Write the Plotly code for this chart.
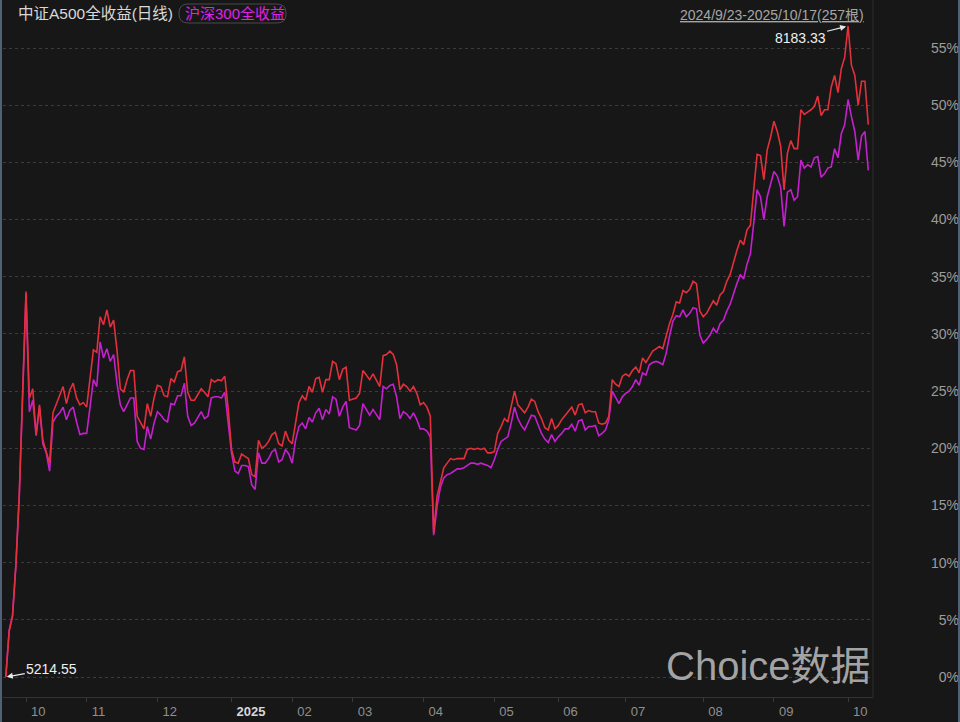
import plotly.graph_objects as go
from itertools import accumulate

# ---------------- data ----------------
# trading days per month, 2024-09 .. 2025-10 (257 bars in total)
days_in_month = [6, 18, 21, 22, 18, 18, 21, 21, 19, 20, 23, 21, 22, 7]
month_labels = ["10", "11", "12", "<b><span style='color:#d8d8d8'>2025</span></b>",
                "02", "03", "04", "05", "06", "07", "08", "09", "10"]

# cumulative total return (%) vs. 2024/9/23
a500 = [
    # 2024-09
    0.0, 4.0, 5.3, 9.8, 15.9, 25.6,
    # 2024-10
    33.7, 24.4, 25.2, 21.2, 23.8, 20.7, 19.8, 18.7, 23.1, 23.9, 24.7, 25.4,
    23.9, 25.1, 25.7, 24.4, 23.8, 24.0,
    # 2024-11
    23.6, 26.1, 28.6, 28.4, 31.5, 30.8, 32.1, 30.6, 31.2, 28.6, 25.2, 24.9,
    26.0, 26.8, 26.8, 22.8, 22.2, 21.7, 23.9, 22.8, 24.4,
    # 2024-12
    25.5, 25.4, 24.6, 24.5, 26.1, 25.8, 26.7, 26.8, 28.0, 24.9, 24.2, 24.2,
    24.7, 25.2, 24.9, 24.5, 26.0, 25.8, 26.0, 25.9, 26.3, 23.5,
    # 2025-01
    19.9, 18.8, 18.7, 19.5, 19.3, 19.1, 17.7, 17.5, 20.7, 20.0, 20.2, 20.6,
    21.2, 21.4, 20.4, 20.2, 21.5, 20.7,
    # 2025-02
    20.4, 22.2, 24.0, 24.6, 24.2, 25.4, 24.9, 26.1, 26.2, 24.9, 26.0, 26.0,
    27.6, 27.4, 26.0, 26.9, 27.1, 24.2,
    # 2025-03
    24.3, 24.4, 24.8, 26.8, 26.4, 26.0, 26.5, 26.0, 25.4, 28.1, 28.2, 28.5,
    28.2, 27.3, 25.1, 25.6, 25.4, 25.0, 25.4, 24.8, 23.8,
    # 2025-04
    24.0, 23.6, 22.8, 12.6, 15.8, 17.2, 18.3, 18.7, 19.1, 19.0, 19.1, 19.1,
    19.1, 19.9, 20.0, 19.9, 20.0, 19.9, 20.0, 19.6, 19.6,
    # 2025-05
    19.7, 21.3, 21.9, 22.6, 22.3, 23.8, 25.0, 23.8, 23.4, 23.1, 23.6, 24.3,
    24.1, 23.2, 22.6, 21.8, 21.6, 22.6, 21.7,
    # 2025-06
    22.0, 22.5, 22.9, 23.2, 23.6, 22.9, 23.8, 23.9, 23.1, 23.3, 23.2, 23.2,
    22.2, 22.1, 22.2, 22.8, 26.0, 25.6, 25.4, 26.3,
    # 2025-07
    26.5, 26.3, 26.8, 27.1, 26.6, 27.9, 27.5, 28.0, 28.5, 28.7, 28.9, 28.7,
    29.9, 30.9, 31.7, 32.8, 32.7, 33.8, 33.6, 33.9, 34.6, 34.4, 32.0,
    # 2025-08
    31.5, 31.8, 32.3, 32.9, 32.5, 33.4, 33.7, 34.6, 35.2, 36.3, 37.3, 38.2,
    37.8, 39.1, 39.5, 42.6, 45.7, 45.6, 43.5, 46.1, 47.2,
    # 2025-09
    48.6, 47.7, 46.4, 42.6, 45.8, 46.9, 46.2, 46.2, 49.6, 49.2, 49.4, 49.6,
    49.9, 50.8, 49.1, 49.6, 49.6, 51.6, 52.6, 51.1, 53.2, 54.2,
    # 2025-10
    56.93, 53.5, 52.6, 50.0, 52.1, 52.1, 48.3,
]

hs300 = [
    # 2024-09
    0.0, 4.1, 5.4, 9.8, 15.8, 25.4,
    # 2024-10
    33.5, 23.2, 24.2, 21.1, 23.6, 20.4, 19.6, 18.0, 22.3, 22.8, 23.1, 23.6,
    22.5, 23.3, 23.6, 22.3, 21.2, 21.3,
    # 2024-11
    21.3, 23.6, 26.0, 25.4, 29.3, 27.9, 28.7, 27.6, 28.2, 25.7, 23.8, 23.2,
    23.8, 24.4, 24.4, 20.6, 20.0, 19.9, 21.9, 20.8, 22.2,
    # 2024-12
    23.2, 22.9, 22.5, 22.3, 23.9, 23.8, 24.6, 24.6, 25.7, 22.8, 22.0, 22.2,
    22.7, 23.2, 22.6, 22.8, 24.4, 24.5, 24.5, 24.4, 24.9, 22.3,
    # 2025-01
    19.6, 18.0, 17.8, 18.5, 18.5, 18.4, 16.8, 16.4, 19.6, 18.7, 18.7, 19.1,
    19.7, 19.9, 18.8, 19.0, 19.9, 19.5,
    # 2025-02
    18.7, 20.7, 21.9, 22.2, 21.7, 22.7, 22.3, 23.1, 23.5, 22.5, 23.4, 23.0,
    24.5, 24.3, 22.8, 23.6, 24.1, 21.8,
    # 2025-03
    21.7, 21.6, 22.0, 23.9, 23.4, 22.9, 23.4, 22.9, 22.5, 25.4, 25.2, 25.5,
    25.6, 24.5, 22.6, 23.2, 23.0, 22.6, 23.1, 22.5, 21.7,
    # 2025-04
    21.7, 21.5, 21.0, 12.4, 14.9, 16.6, 17.4, 17.7, 17.8, 18.0, 18.2, 18.2,
    18.3, 18.5, 18.7, 18.7, 18.6, 18.7, 18.6, 18.5, 18.3,
    # 2025-05
    19.0, 19.9, 20.6, 20.8, 21.0, 22.2, 23.6, 22.6, 22.0, 21.6, 22.3, 22.9,
    22.8, 22.0, 21.3, 20.8, 20.5, 21.2, 20.6,
    # 2025-06
    21.0, 21.3, 21.7, 21.7, 22.1, 21.5, 22.4, 22.5, 21.6, 21.9, 21.9, 22.0,
    21.1, 21.3, 21.6, 22.5, 25.0, 24.5, 23.9, 24.5,
    # 2025-07
    24.8, 25.0, 25.4, 26.0, 25.5, 26.6, 26.4, 27.3, 27.5, 27.6, 27.5, 27.3,
    28.3, 29.8, 31.1, 31.6, 31.5, 32.1, 31.5, 31.8, 32.3, 32.2, 29.9,
    # 2025-08
    29.2, 29.5, 29.9, 30.5, 30.1, 30.9, 31.2, 32.0, 32.6, 33.6, 34.4, 35.2,
    34.8, 36.1, 37.0, 39.7, 42.6, 42.0, 40.0, 42.0, 43.2,
    # 2025-09
    44.2, 43.8, 42.8, 39.4, 42.4, 42.6, 41.7, 42.0, 45.2, 44.5, 44.8, 44.6,
    45.4, 45.5, 43.7, 44.0, 44.5, 44.6, 46.2, 45.4, 47.5, 48.3,
    # 2025-10
    50.5, 49.0, 47.7, 45.2, 47.3, 47.7, 44.3,
]

y_ticks = list(range(0, 56, 5))
y_labels = [f"{v}%" for v in y_ticks]
start_label = "5214.55"
peak_label = "8183.33"
title_a500 = "中证A500全收益(日线)"
title_hs300 = "沪深300全收益"
range_label = "2024/9/23-2025/10/17(257根)"
watermark = "Choice数据"

# ---------------- derived ----------------
n = len(a500)
x = list(range(n))
month_starts = list(accumulate(days_in_month))[:-1]
peak_i = max(range(n), key=lambda i: a500[i])

W, H = 960, 722
def px(v):
    return v / W
def py(v):
    return 1 - v / H

BG = "#171717"
RED = "#e3303c"
MAG = "#c61fd0"
FONT = "Liberation Sans, Arial, Noto Sans CJK SC, sans-serif"

fig = go.Figure()
fig.add_trace(go.Scatter(x=x, y=hs300, mode="lines", name=title_hs300,
                         line=dict(color=MAG, width=1.6), hoverinfo="skip"))
fig.add_trace(go.Scatter(x=x, y=a500, mode="lines", name=title_a500,
                         line=dict(color=RED, width=1.6), hoverinfo="skip"))

fig.update_layout(
    width=W, height=H,
    margin=dict(l=0, r=0, t=0, b=0),
    paper_bgcolor=BG, plot_bgcolor=BG,
    showlegend=False,
    font=dict(family=FONT, color="#9c9c9c"),
    xaxis=dict(
        domain=[px(3), px(873)],
        range=[-0.83, 257.4],
        tickmode="array", tickvals=month_starts, ticktext=month_labels,
        ticklabelposition="outside right", ticklabelshift=4,
        ticklabelstandoff=2,
        ticks="outside", ticklen=4, tickcolor="#3a3a3a",
        showgrid=False, zeroline=False,
        showline=True, linecolor="#333333", linewidth=1,
        tickfont=dict(size=13, color="#8f8f8f"),
        automargin=False,
    ),
    yaxis=dict(
        domain=[1 - 697 / H, 1],
        range=[-1.749, 59.2],
        tickmode="array", tickvals=y_ticks, ticktext=y_labels,
        anchor="free", position=0.999, side="left",
        ticks="", showline=False, zeroline=False,
        showgrid=True, gridcolor="#3c3c3c", griddash="3px,3px", gridwidth=1,
        tickfont=dict(size=14, color="#9c9c9c"),
        automargin=False,
    ),
)

shapes = [
    # right border of the plot area
    dict(type="line", xref="paper", yref="paper", x0=px(873), x1=px(873),
         y0=py(0), y1=py(697), line=dict(color="#2f2f2f", width=1)),
    # outer frame edges
    dict(type="line", xref="paper", yref="paper", x0=px(1), x1=px(1),
         y0=0, y1=1, line=dict(color="#4f6078", width=2)),
    dict(type="line", xref="paper", yref="paper", x0=px(959), x1=px(959),
         y0=0, y1=1, line=dict(color="#4f6078", width=2)),
]
# rounded box behind the second series name
bx0, bx1, by0, by1, r = 179, 286, 4, 23, 9
path = (f"M {px(bx0 + r)},{py(by0)} L {px(bx1 - r)},{py(by0)} "
        f"Q {px(bx1)},{py(by0)} {px(bx1)},{py(by0 + r)} "
        f"L {px(bx1)},{py(by1 - r)} "
        f"Q {px(bx1)},{py(by1)} {px(bx1 - r)},{py(by1)} "
        f"L {px(bx0 + r)},{py(by1)} "
        f"Q {px(bx0)},{py(by1)} {px(bx0)},{py(by1 - r)} "
        f"L {px(bx0)},{py(by0 + r)} "
        f"Q {px(bx0)},{py(by0)} {px(bx0 + r)},{py(by0)} Z")
shapes.append(dict(type="path", xref="paper", yref="paper", path=path,
                   line=dict(color="#4a4a4a", width=1)))
fig.update_layout(shapes=shapes)

ann = [
    dict(text=title_a500, xref="paper", yref="paper", x=px(16), y=py(13),
         xanchor="left", yanchor="middle", showarrow=False,
         font=dict(size=15.5, color="#d8d8d8")),
    dict(text=title_hs300, xref="paper", yref="paper", x=px(183), y=py(13),
         xanchor="left", yanchor="middle", showarrow=False,
         font=dict(size=15, color="#e021e6")),
    dict(text=f"<u>{range_label}</u>", xref="paper", yref="paper",
         x=px(866), y=py(15), xanchor="right", yanchor="middle",
         showarrow=False, font=dict(size=14, color="#a6a6a6")),
    dict(text=peak_label, x=peak_i, y=a500[peak_i], xref="x", yref="y",
         ax=-48, ay=12, showarrow=True, arrowhead=2, arrowsize=1,
         arrowwidth=1.2, arrowcolor="#e8e8e8", standoff=2,
         font=dict(size=14, color="#f0f0f0")),
    dict(text=start_label, x=0, y=a500[0], xref="x", yref="y",
         ax=46, ay=-8, showarrow=True, arrowhead=2, arrowsize=1,
         arrowwidth=1.2, arrowcolor="#e8e8e8", standoff=1,
         font=dict(size=14, color="#f0f0f0")),
    dict(text=watermark, xref="paper", yref="paper", x=px(768), y=py(666),
         xanchor="center", yanchor="middle", showarrow=False,
         font=dict(size=40, color="rgba(190,190,190,0.85)",
                   family="Liberation Sans, Arial, Noto Sans CJK SC")),
]
fig.update_layout(annotations=ann)

fig.write_html(
    "out.html",
    config={"displayModeBar": False, "staticPlot": True},
    post_script=("document.body.style.margin='0';"
                 "document.body.style.background='#171717';"),
)
